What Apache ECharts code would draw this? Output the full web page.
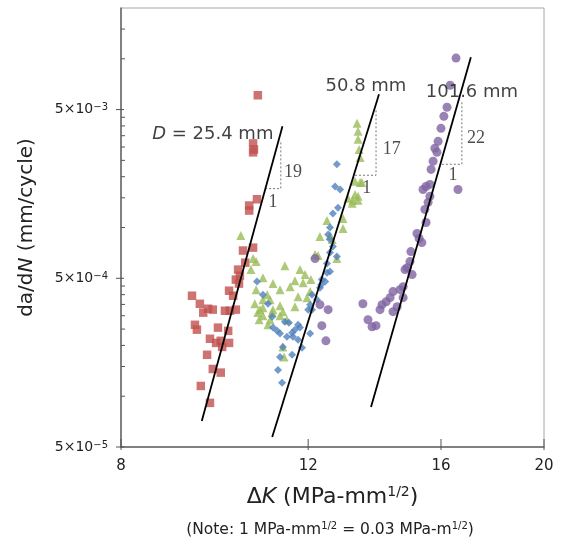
<!DOCTYPE html>
<html><head><meta charset="utf-8">
<script src="https://cdn.jsdelivr.net/npm/echarts@6/dist/echarts.min.js"></script>
<style>html,body{margin:0;padding:0;background:#fff}#c{width:564px;height:543px}</style>
</head><body><div id="c"></div>
<script>
// ---- axis ticks ----
const xTickValues = [8, 12, 16, 20];
const xTickLabels = ['8', '12', '16', '20'];
const yTickValues = [5e-5, 5e-4, 5e-3];
const yTickBase = ['5×10', '5×10', '5×10'];
const yTickExponents = ['−5', '−4', '−3'];
const yMinorTickValues = [1e-4,1.5e-4,2e-4,2.5e-4,3e-4,3.5e-4,4e-4,4.5e-4,1e-3,1.5e-3,2e-3,2.5e-3,3e-3,3.5e-3,4e-3,4.5e-3,1e-2,1.5e-2];

// ---- D = 25.4 mm (red squares) ----
const d254X = [10.76,10.65,10.67,10.65,10.74,10.56,10.56,10.65,10.42,10.47,10.31,10.35,10.26,10.33,10.11,10.20,9.33,9.49,9.56,9.66,9.76,10.02,10.13,10.26,9.39,9.43,9.87,10.09,9.70,9.83,9.93,9.96,10.11,9.64,9.76,9.93,9.51,9.70];
const d254Y = [6.08e-3,3.15e-3,2.90e-3,2.79e-3,1.47e-3,1.35e-3,1.26e-3,7.60e-4,7.30e-4,6.19e-4,5.63e-4,5.18e-4,4.91e-4,4.65e-4,4.22e-4,3.94e-4,3.94e-4,3.53e-4,3.13e-4,3.30e-4,3.26e-4,3.21e-4,3.21e-4,3.26e-4,2.65e-4,2.48e-4,2.55e-4,2.44e-4,2.19e-4,2.07e-4,2.13e-4,1.96e-4,2.07e-4,1.76e-4,1.45e-4,1.38e-4,1.15e-4,9.13e-5];

// ---- D = 50.8 mm (green triangles) ----
const d508aX = [13.34,13.37,13.37,13.40,13.43,13.28,13.43,13.48,13.28,13.37,13.08,13.22,13.37,13.20,12.94,12.94,12.50,12.31,12.58,12.18,12.26,12.77,12.64,11.41,10.37,10.65,10.72,10.60,10.88,11.79,11.92,11.66,12.07,11.12,11.29,11.54,11.87,10.98,10.88,11.05,11.74,12.05,11.97,10.69,10.88,11.12,11.36,11.66,10.79,11.05,11.29,11.46,11.00,10.81,11.29,11.36,11.39,10.72,11.10,10.76,10.88];
const d508aY = [4.15e-3,3.72e-3,3.33e-3,2.90e-3,2.60e-3,1.88e-3,1.85e-3,1.85e-3,1.57e-3,1.53e-3,1.49e-3,1.45e-3,1.45e-3,1.39e-3,1.13e-3,9.86e-4,1.10e-3,8.84e-4,8.96e-4,6.91e-4,6.82e-4,6.54e-4,8.48e-4,5.94e-4,8.96e-4,6.54e-4,6.28e-4,5.63e-4,5.04e-4,5.63e-4,5.26e-4,4.84e-4,4.91e-4,4.65e-4,4.28e-4,4.46e-4,4.71e-4,4.00e-4,3.73e-4,3.73e-4,3.89e-4,4.17e-4,3.84e-4,3.53e-4,3.35e-4,3.26e-4,3.17e-4,3.39e-4,2.84e-4,2.84e-4,3.00e-4,2.84e-4,2.65e-4,3.26e-4,3.44e-4,1.96e-4,1.71e-4,4.28e-4,3.13e-4,3.13e-4,3.00e-4];

// ---- D = 50.8 mm (blue diamonds) ----
const d508bX = [12.77,12.72,12.86,12.80,12.66,12.58,12.53,12.58,12.66,12.77,12.58,12.50,12.58,12.50,12.45,12.36,12.31,12.34,12.10,12.23,12.05,12.00,12.10,10.74,10.88,11.00,11.10,11.12,11.22,11.29,11.41,11.51,11.66,11.79,11.59,11.46,11.74,11.36,11.59,11.84,12.05,11.29,11.24,11.34,11.61,11.74];
const d508bY = [2.37e-3,1.75e-3,1.68e-3,1.31e-3,1.21e-3,1.00e-3,9.08e-4,8.48e-4,7.71e-4,6.72e-4,7.10e-4,6.11e-4,5.48e-4,5.40e-4,4.78e-4,4.91e-4,4.40e-4,4.58e-4,4.00e-4,3.73e-4,3.49e-4,3.26e-4,3.26e-4,4.78e-4,4.00e-4,3.53e-4,2.96e-4,2.55e-4,2.44e-4,2.35e-4,2.76e-4,2.73e-4,2.48e-4,2.55e-4,2.38e-4,2.25e-4,2.16e-4,1.96e-4,1.76e-4,1.94e-4,2.35e-4,1.71e-4,1.43e-4,1.20e-4,2.25e-4,2.65e-4];

// ---- D = 101.6 mm (purple circles) ----
const d1016X = [16.53,16.32,16.21,16.10,16.00,15.90,15.79,15.86,15.73,15.66,15.62,15.49,15.39,15.62,15.56,15.45,15.49,15.19,15.26,15.35,14.99,14.96,14.87,15.03,14.80,14.74,14.64,14.42,14.33,14.74,14.21,14.08,14.55,14.42,14.02,13.51,13.66,13.78,13.90,16.60,12.18,12.31,12.53,12.36,12.47];
const d1016Y = [1.01e-2,6.97e-3,5.16e-3,4.56e-3,3.87e-3,3.24e-3,2.95e-3,2.79e-3,2.47e-3,2.21e-3,1.80e-3,1.75e-3,1.68e-3,1.53e-3,1.41e-3,1.28e-3,1.07e-3,9.21e-4,8.60e-4,8.14e-4,7.20e-4,6.28e-4,5.78e-4,5.26e-4,5.63e-4,4.46e-4,4.28e-4,4.17e-4,3.84e-4,3.84e-4,3.63e-4,3.49e-4,3.39e-4,3.17e-4,3.26e-4,3.53e-4,2.84e-4,2.58e-4,2.62e-4,1.68e-3,6.54e-4,3.49e-4,3.26e-4,2.62e-4,2.13e-4];

// ---- fitted lines ----
const fit254X = [9.53, 11.35];   const fit254Y = [7.14e-5, 3.98e-3];
const fit508X = [11.10, 13.99];  const fit508Y = [5.73e-5, 6.16e-3];
const fit1016X = [13.75, 17.07]; const fit1016Y = [8.64e-5, 1.02e-2];

// ---- slope triangles ----
const tri254X = [10.93, 11.31, 11.31];  const tri254Y = [1.70e-3, 1.70e-3, 3.29e-3];
const tri508X = [13.28, 13.90, 13.90];  const tri508Y = [2.04e-3, 2.04e-3, 5.02e-3];
const tri1016X = [16.03, 16.74, 16.74]; const tri1016Y = [2.37e-3, 2.37e-3, 5.60e-3];

// ---- annotations ----
const sizeLabelText = ['{i|D} = 25.4 mm', '50.8 mm', '101.6 mm'];
const sizeLabelX = [9.76, 13.60, 17.11];
const sizeLabelY = [3.57e-3, 6.88e-3, 6.33e-3];
const slopeLabelText = ['19', '1', '17', '1', '22', '1'];
const slopeLabelX = [11.61, 11.12, 14.38, 13.62, 17.26, 16.42];
const slopeLabelY = [2.12e-3, 1.41e-3, 2.90e-3, 1.70e-3, 3.38e-3, 2.04e-3];

const SANS = 'DejaVu Sans';
const SERIF = 'Liberation Serif';
const pts = (xs, ys) => xs.map((x, i) => [x, ys[i]]);
const findIdx = (arr, v) => arr.findIndex(t => Math.abs(t - v) <= 1e-6 * t);
const X_MIN = 8, X_MAX = 20, Y_MIN = 5e-5, Y_MAX = 2e-2;

const chart = echarts.init(document.getElementById('c'));
const scatterBase = { type: 'scatter', xAxisIndex: 0, yAxisIndex: 0, silent: true };
const lineBase = { type: 'line', xAxisIndex: 0, yAxisIndex: 0, symbol: 'none', silent: true };

// axis tick marks drawn through the axes' own scales (custom series)
const tickItems = []
  .concat(xTickValues.map(v => ({ value: [v, Y_MIN, 0, 1] })))       // x major: crossing axis
  .concat(yTickValues.map(v => ({ value: [X_MIN, v, 1, 1] })))        // y major: crossing axis
  .concat(yMinorTickValues.map(v => ({ value: [X_MIN, v, 1, 0] })));  // y minor: inside only

const option = {
  animation: false,
  backgroundColor: '#fff',
  grid: { left: 121, right: 20, top: 8, bottom: 96, show: true, borderColor: '#a6a6a6', borderWidth: 1 },
  xAxis: [{
    type: 'log', logBase: 10, min: X_MIN, max: X_MAX, position: 'bottom', z: 3,
    axisLine: { show: true, onZero: false, lineStyle: { color: '#666', width: 1.5 } },
    axisTick: { show: false },
    axisLabel: { customValues: xTickValues, formatter: v => { const i = findIdx(xTickValues, v); return i >= 0 ? xTickLabels[i] : ''; },
      fontFamily: SANS, fontSize: 15, color: '#222', margin: 12 },
    splitLine: { show: false }, minorTick: { show: false },
    name: '{n|Δ}{i|K}{n| (MPa-mm}{s|1/2}{n|)}', nameLocation: 'middle', nameGap: 38,
    nameTextStyle: { rich: {
      n: { fontFamily: SANS, fontSize: 22, color: '#222', lineHeight: 25 },
      i: { fontFamily: SANS, fontSize: 22, fontStyle: 'italic', color: '#222', lineHeight: 25 },
      s: { fontFamily: SANS, fontSize: 14, color: '#222', verticalAlign: 'top', lineHeight: 14 }
    } }
  }],
  yAxis: [{
    type: 'log', logBase: 10, min: Y_MIN, max: Y_MAX, position: 'left', z: 3,
    axisLine: { show: true, onZero: false, lineStyle: { color: '#666', width: 1.5 } },
    axisTick: { show: false },
    axisLabel: { customValues: yTickValues, formatter: v => { const i = findIdx(yTickValues, v); return i >= 0 ? yTickBase[i] + '{s|' + yTickExponents[i] + '}' : ''; },
      fontFamily: SANS, fontSize: 14, color: '#222', margin: 13,
      rich: { s: { fontFamily: SANS, fontSize: 10, color: '#222', verticalAlign: 'top', lineHeight: 10 } } },
    splitLine: { show: false }, minorTick: { show: false },
    name: '{n|da/d}{i|N}{n| (mm/cycle)}', nameLocation: 'middle', nameGap: 84,
    nameTextStyle: { rich: {
      n: { fontFamily: SANS, fontSize: 20, color: '#222' },
      i: { fontFamily: SANS, fontSize: 20, fontStyle: 'italic', color: '#222' }
    } }
  }],
  graphic: [{
    type: 'text', x: 330, y: 530,
    style: {
      text: '{n|(Note: 1 MPa-mm}{s|1/2}{n| = 0.03 MPa-m}{s|1/2}{n|)}',
      align: 'center', verticalAlign: 'middle',
      rich: {
        n: { fontFamily: SANS, fontSize: 15.5, fill: '#222', lineHeight: 18 },
        s: { fontFamily: SANS, fontSize: 10, fill: '#222', verticalAlign: 'top', lineHeight: 10 }
      }
    }
  }],
  series: [
    Object.assign({}, scatterBase, { name: '25.4', symbol: 'rect', symbolSize: 8.5, itemStyle: { color: '#C0504D' }, data: pts(d254X, d254Y) }),
    Object.assign({}, scatterBase, { name: '50.8a', symbol: 'triangle', symbolSize: 9, itemStyle: { color: '#9BBB59' }, data: pts(d508aX, d508aY) }),
    Object.assign({}, scatterBase, { name: '50.8b', symbol: 'diamond', symbolSize: 8, itemStyle: { color: '#4F81BD' }, data: pts(d508bX, d508bY) }),
    Object.assign({}, scatterBase, { name: '101.6', symbol: 'circle', symbolSize: 9, itemStyle: { color: '#8064A2' }, data: pts(d1016X, d1016Y) }),
    Object.assign({}, lineBase, { lineStyle: { color: '#000', width: 1.8 }, data: pts(fit254X, fit254Y), z: 5 }),
    Object.assign({}, lineBase, { lineStyle: { color: '#000', width: 1.8 }, data: pts(fit508X, fit508Y), z: 5 }),
    Object.assign({}, lineBase, { lineStyle: { color: '#000', width: 1.8 }, data: pts(fit1016X, fit1016Y), z: 5 }),
    Object.assign({}, lineBase, { lineStyle: { color: '#777', width: 1, type: [2, 2] }, data: pts(tri254X, tri254Y), z: 4 }),
    Object.assign({}, lineBase, { lineStyle: { color: '#777', width: 1, type: [2, 2] }, data: pts(tri508X, tri508Y), z: 4 }),
    Object.assign({}, lineBase, { lineStyle: { color: '#777', width: 1, type: [2, 2] }, data: pts(tri1016X, tri1016Y), z: 4 }),
    {
      type: 'custom', xAxisIndex: 0, yAxisIndex: 0, silent: true, clip: false, z: 4,
      data: tickItems,
      renderItem: (params, api) => {
        const p = api.coord([api.value(0), api.value(1)]);
        const isY = api.value(2) === 1, major = api.value(3) === 1;
        const inner = major ? (isY ? 3 : 8) : 4, outer = major ? (isY ? 5 : 3) : 0;
        const shape = isY
          ? { x1: p[0] - outer, y1: p[1], x2: p[0] + inner, y2: p[1] }
          : { x1: p[0], y1: p[1] + outer, x2: p[0], y2: p[1] - inner };
        return { type: 'line', shape, style: { stroke: '#555', lineWidth: 1 } };
      }
    },
    Object.assign({}, scatterBase, {
      symbolSize: 0, z: 6, clip: false,
      data: sizeLabelText.map((t, i) => ({ name: t, value: [sizeLabelX[i], sizeLabelY[i]] })),
      label: { show: true, position: [0, 0], align: 'center', verticalAlign: 'middle', formatter: p => p.name,
        fontFamily: SANS, fontSize: 18, color: '#111',
        rich: { i: { fontFamily: SANS, fontSize: 18, fontStyle: 'italic', color: '#111' } } }
    }),
    Object.assign({}, scatterBase, {
      symbolSize: 0, z: 6, clip: false,
      data: slopeLabelText.map((t, i) => ({ name: t, value: [slopeLabelX[i], slopeLabelY[i]] })),
      label: { show: true, position: [0, 0], align: 'center', verticalAlign: 'middle', formatter: p => p.name,
        fontFamily: SERIF, fontSize: 18, color: '#222' }
    })
  ]
};
chart.setOption(option);
</script>
</body></html>
